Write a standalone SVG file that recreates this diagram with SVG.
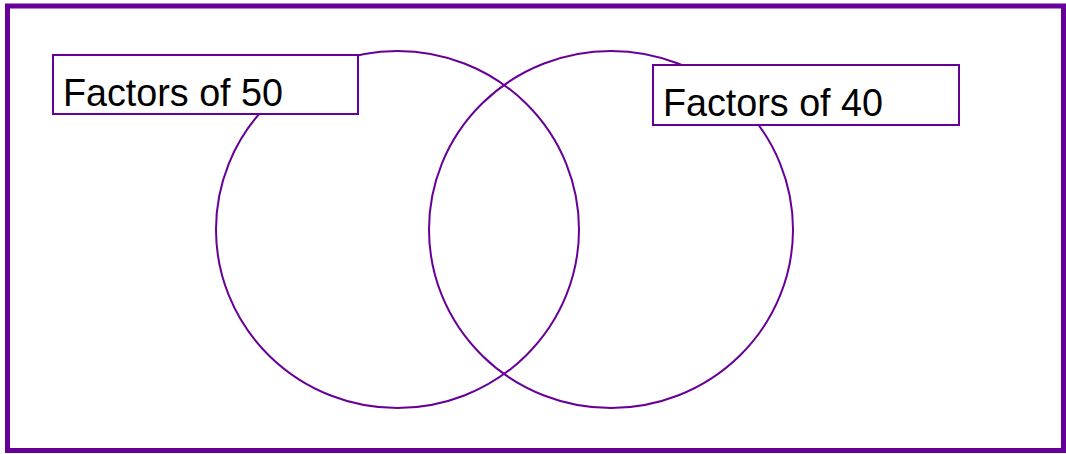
<svg xmlns="http://www.w3.org/2000/svg" width="1066" height="454" viewBox="0 0 1066 454">
<style>
.frame{fill:#ffffff;stroke:#660099;stroke-width:5}
.set{fill:none;stroke:#660099;stroke-width:2}
.lbl{fill:#ffffff;stroke:#660099;stroke-width:2}
.txt{font-family:"Liberation Sans",Arial,sans-serif;font-size:39px;fill:#000000}
</style>
<rect class="frame" x="7.5" y="6" width="1056" height="444.5"/>
<g id="set50"><ellipse class="set" cx="397.5" cy="229.5" rx="181.5" ry="178.5"/></g>
<g id="set40"><ellipse class="set" cx="611" cy="229.5" rx="182" ry="178.5"/></g>
<g id="label50"><rect class="lbl" x="53" y="55" width="305" height="59"/><text class="txt" x="63" y="106" textLength="220" lengthAdjust="spacingAndGlyphs">Factors of 50</text></g>
<g id="label40"><rect class="lbl" x="653" y="65" width="306" height="60"/><text class="txt" x="663" y="116" textLength="220" lengthAdjust="spacingAndGlyphs">Factors of 40</text></g>
<g id="connectors"></g>
</svg>
